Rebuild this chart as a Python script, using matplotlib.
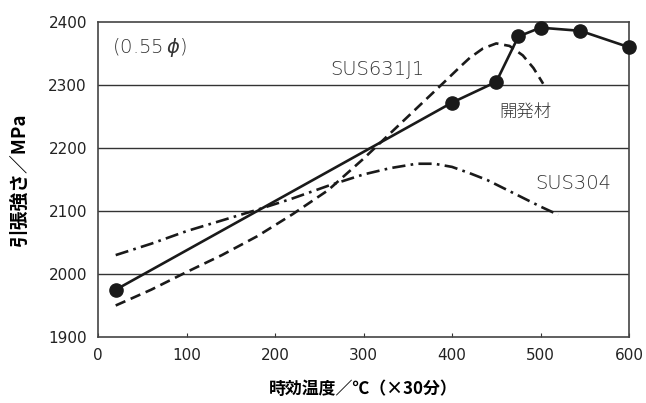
import matplotlib
matplotlib.use('Agg')
import matplotlib.pyplot as plt

plt.rcParams['font.family'] = ['DejaVu Sans', 'Noto Sans CJK JP']

# 開発材 (measured points)
dev_x = [20, 400, 450, 475, 500, 545, 600]
dev_y = [1975, 2272, 2305, 2377, 2391, 2386, 2360]

# SUS631J1 (dashed curve)
s631_x = [20, 60, 100, 140, 180, 220, 260, 300, 330, 360, 390, 410,
          420, 435, 450, 465, 480, 492, 503]
s631_y = [1950, 1975, 2003, 2030, 2060, 2095, 2133, 2183, 2223, 2263, 2303, 2330,
          2343, 2358, 2366, 2362, 2347, 2327, 2302]

# SUS304 (dash-dot curve)
s304_x = [20, 60, 100, 140, 180, 220, 260, 300, 330, 360, 380, 400,
          420, 440, 460, 480, 500, 520]
s304_y = [2030, 2048, 2068, 2085, 2102, 2120, 2140, 2158, 2168, 2175, 2175, 2170,
          2160, 2149, 2135, 2121, 2107, 2094]

xticks = [0, 100, 200, 300, 400, 500, 600]
yticks = [1900, 2000, 2100, 2200, 2300, 2400]

fig = plt.figure(figsize=(6.46, 4.03), dpi=100)
ax = fig.add_axes([0.1517, 0.1638, 0.822, 0.7816])

for y in yticks[1:-1]:
    ax.axhline(y, color='#333333', lw=1.0, zorder=1)

ax.plot(s631_x, s631_y, color='#1a1a1a', lw=1.9, dashes=[4, 2.2], zorder=3)
ax.plot(s304_x, s304_y, color='#1a1a1a', lw=1.9, dashes=[5, 2, 1, 2], zorder=3)
ax.plot(dev_x, dev_y, color='#1a1a1a', lw=1.9, marker='o', markersize=9.5,
        clip_on=False, zorder=4)

ax.set_xlim(0, 600)
ax.set_ylim(1900, 2400)
ax.set_xticks(xticks)
ax.set_yticks(yticks)
ax.tick_params(axis='x', direction='in', length=3, width=0.8, labelsize=11,
               pad=8, colors='#333333', labelcolor='#222222')
ax.tick_params(axis='y', length=0, labelsize=11, pad=8, labelcolor='#222222')
for s in ax.spines.values():
    s.set_color('#444444')
    s.set_linewidth(1.2)

lab = dict(fontsize=14, color='#333333', va='center', fontweight='light')
ax.text(16, 2359, '(0.55$\\,\\phi$)', **lab)
ax.text(262, 2324, 'SUS631J1', **lab)
ax.text(454, 2256, '開発材', family=['Noto Sans CJK JP'], fontsize=12.5,
        color='#333333', va='center', fontweight='light')
ax.text(494, 2143, 'SUS304', **lab)

jp = ['Noto Sans CJK JP', 'DejaVu Sans']
ax.set_xlabel('時効温度／℃（×30分）', family=jp, fontsize=12.2, fontweight='bold',
              labelpad=12)
ax.set_ylabel('引張強さ／MPa', family=jp, fontsize=13.5, fontweight='bold',
              labelpad=14)

fig.savefig('out.png', dpi=100)
